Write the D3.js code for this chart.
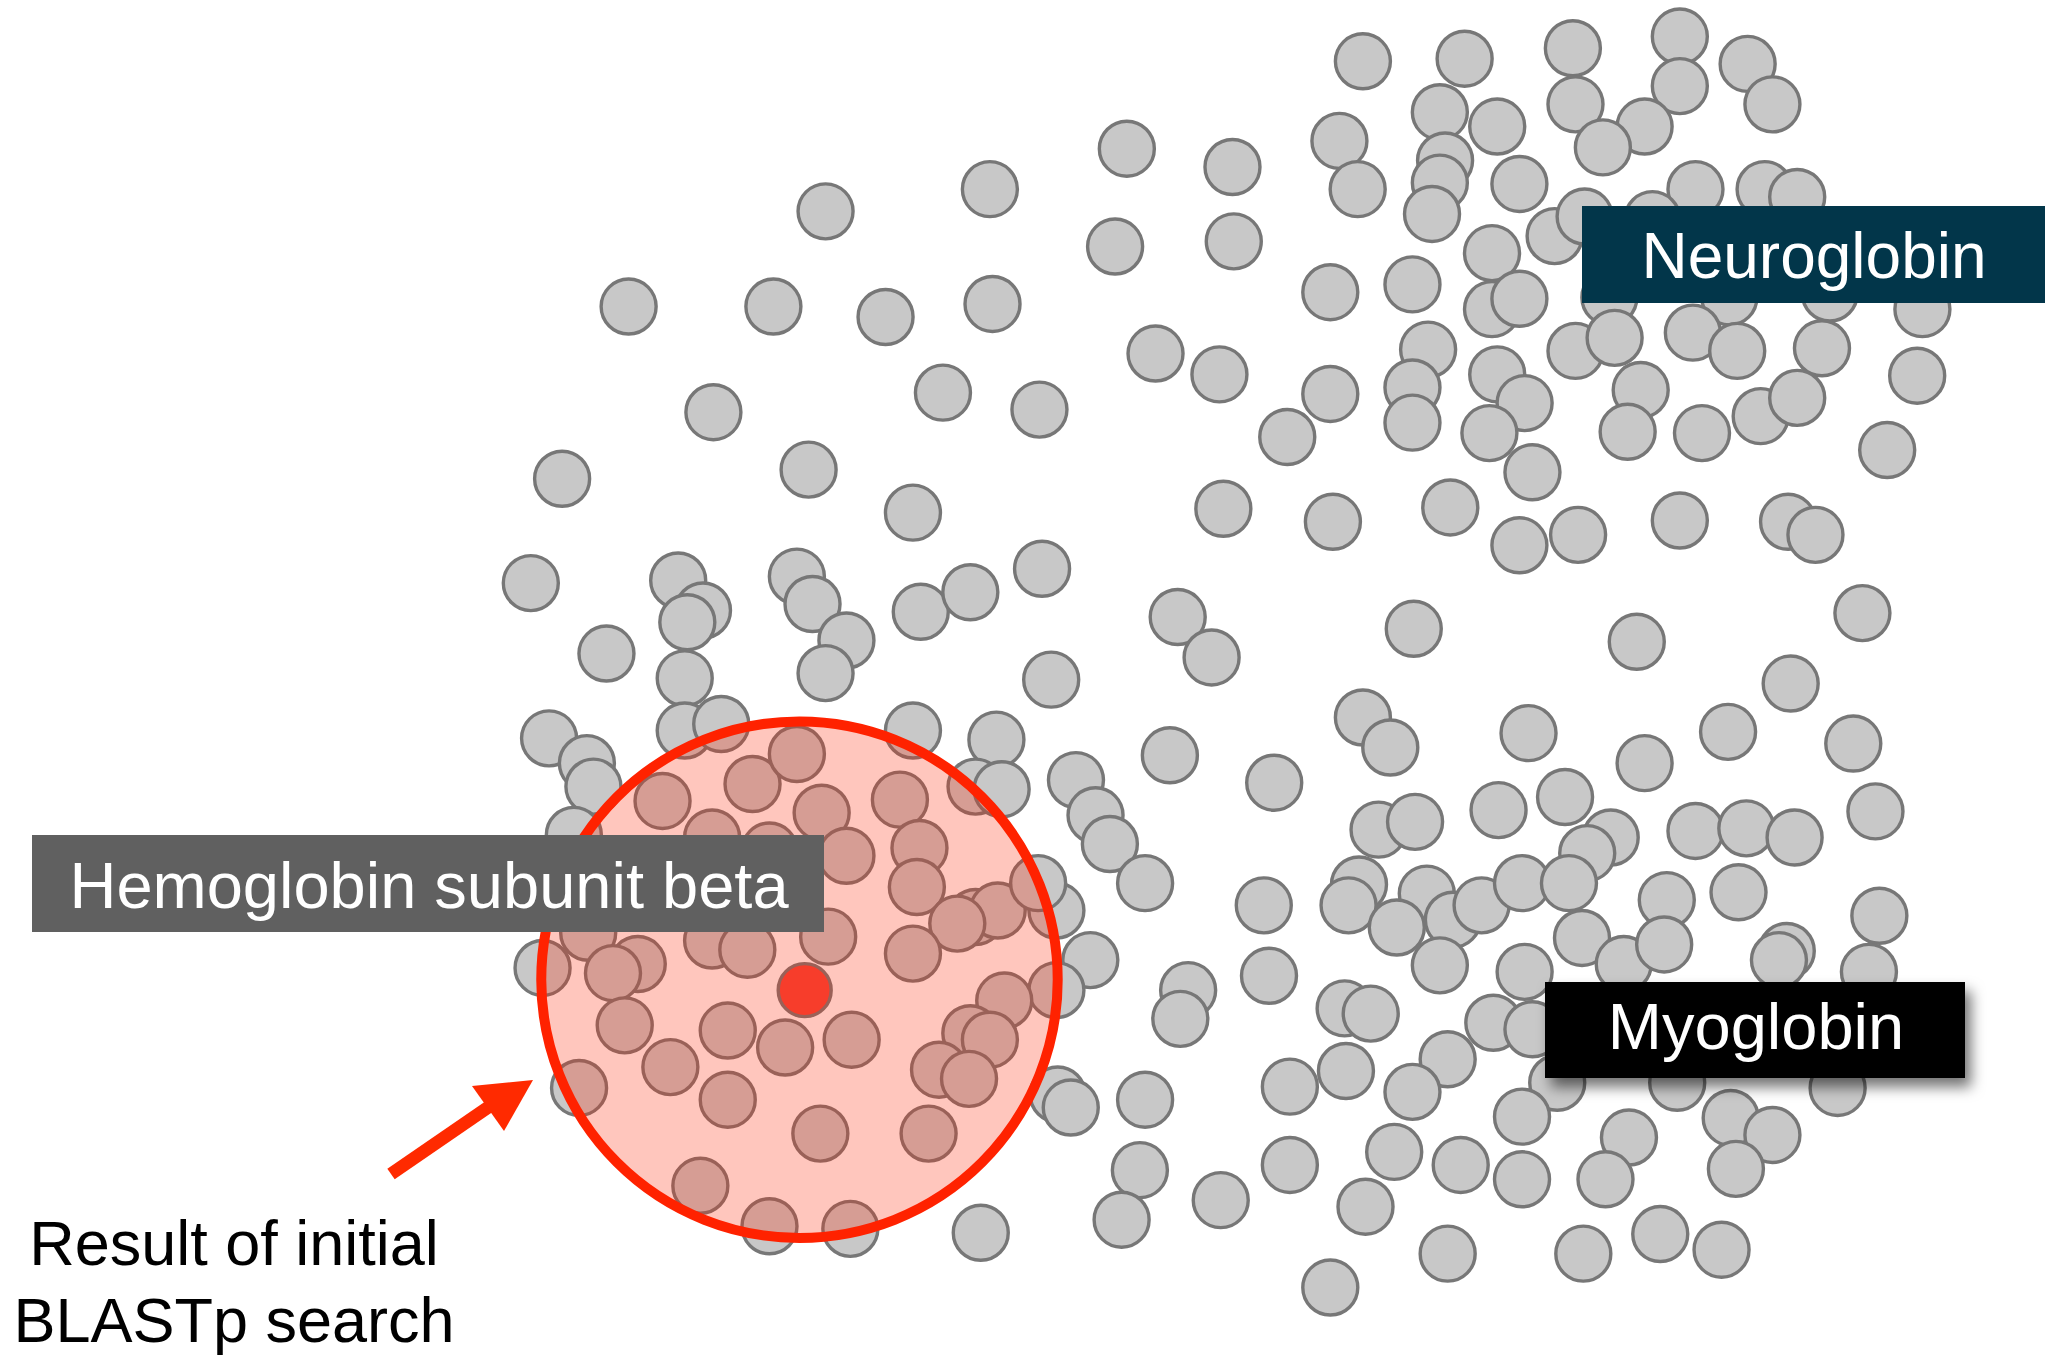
<!DOCTYPE html>
<html>
<head>
<meta charset="utf-8">
<script src="https://cdn.jsdelivr.net/npm/d3@7"></script>
<style>
  html, body { margin: 0; padding: 0; background: #ffffff; }
  svg { display: block; }
</style>
</head>
<body>
<svg id="chart" width="2045" height="1358"></svg>
<script>
// Embedding coordinates of each protein (units of the original figure canvas, 1568 x 1041)
const neuroglobinCluster = [
  [1045,47],[1123,45],[1206,37],[1288,28],[1340,49],[1359,80],[1288,66],[1208,80],[1104,86],[1148,97],
  [1261,97],[1229,113],[1027,108],[1041,145],[1108,123],[1104,140],[1098,164],[1165,141],[1192,181],[1215,166],
  [1300,145],[1353,145],[1378,151],[1267,168],[1020,224],[1083,218],[1144,194],[1144,237],[1165,229],[1234,228],
  [1326,228],[1403,225],[1474,237],[1095,268],[1208,269],[1238,259],[1298,255],[1332,269],[1397,267],[1470,288],
  [1020,302],[1083,297],[1083,324],[1148,287],[1169,309],[1142,332],[1258,299],[1248,331],[1305,332],[1350,319],
  [1378,305],[1447,345],[987,335],[1175,362],[1022,400],[1112,389],[1165,418],[1210,410],[1288,399],[1371,400],
  [1392,410]
];
const upperScatter = [
  [633,162],[759,145],[864,114],[945,128],[855,189],[946,185],[482,235],[593,235],[679,243],[761,233],
  [886,271],[935,287],[547,316],[723,301],[797,314],[431,367],[620,360],[700,393],[938,390],
  [407,447],[520,445],[539,468],[527,477],[465,501],[525,520],[611,442],[623,463],[649,491],[633,516],
  [706,469],[744,454],[799,436],[903,473],[929,504],[1084,482],[1255,492],[1428,470],[806,521],[1373,524]
];
const middleScatter = [
  [421,566],[450,585],[455,603],[525,560],[553,555],[700,560],[764,567],[748,603],[768,605],[825,598],
  [840,625],[851,647],[878,677],[897,579],[977,600],[1045,550],[1066,573],[1172,562],[1261,585],[1325,561],
  [1421,570],[1438,622],[810,698],[836,736],[810,759],[811,839],[821,849],[878,843],[874,897],[860,935],
  [752,945],[590,940],[652,942]
];
const myoglobinCluster = [
  [1057,636],[1085,630],[1149,621],[1200,611],[1235,642],[1217,654],[1300,637],[1339,635],[1376,642],[969,694],
  [1042,678],[1034,694],[1094,685],[1071,711],[1114,705],[1136,694],[1167,677],[1203,677],[1104,740],[1278,690],
  [1333,684],[1441,702],[1213,719],[1245,739],[1276,724],[1370,729],[1364,736],[1433,745],[911,759],[905,781],
  [973,748],[1031,773],[1051,777],[1169,745],[1145,784],[1175,789],[989,833],[1032,821],[1110,812],[1083,837],
  [1194,830],[1286,830],[1409,834],[1167,856],[1249,872],[1327,857],[1359,870],[1331,896],[989,893],[1069,883],
  [1120,893],[1167,904],[1231,904],[936,920],[1047,925],[1110,961],[1214,961],[1273,946],[1320,958],[1020,987]
];
const hemoglobinHits = [
  [577,601],[508,614],[611,578],[690,613],[630,623],[546,642],[705,650],[703,680],[649,656],[590,652],
  [440,640],[748,703],[765,698],[796,677],[734,708],[635,718],[700,731],[546,721],[573,728],[451,715],
  [416,742],[489,739],[470,746],[479,786],[514,818],[558,790],[602,803],[653,797],[770,767],[744,792],
  [759,797],[720,820],[743,827],[558,843],[629,869],[712,869],[444,834],[537,909]
];
const queryProtein = [[617,759]];
const searchRadius = 198;
const clusterLabels = ["Neuroglobin", "Hemoglobin subunit beta", "Myoglobin"];
const noteLines = ["Result of initial", "BLASTp search"];

const allPoints = [].concat(neuroglobinCluster, upperScatter, middleScatter, myoglobinCluster, hemoglobinHits);

const svg = d3.select("#chart");
const W = 2045, H = 1358;
const x = d3.scaleLinear().domain([0, 1568]).range([0, W]);
const y = d3.scaleLinear().domain([0, 1041]).range([0, H]);

const defs = svg.append("defs");
const f = defs.append("filter").attr("id", "shadow").attr("x", "-20%").attr("y", "-30%").attr("width", "150%").attr("height", "180%");
f.append("feDropShadow").attr("dx", 6).attr("dy", 9).attr("stdDeviation", 7).attr("flood-color", "#000").attr("flood-opacity", 0.55);

const R = 27.5;
svg.append("g").selectAll("circle").data(allPoints).join("circle")
  .attr("cx", d => x(d[0])).attr("cy", d => y(d[1])).attr("r", R)
  .attr("fill", "#c8c8c8").attr("stroke", "#777777").attr("stroke-width", 3.4);

svg.append("g").selectAll("circle").data(queryProtein).join("circle")
  .attr("cx", d => x(d[0])).attr("cy", d => y(d[1])).attr("r", 26.5)
  .attr("fill", "#f4473b").attr("stroke", "#777777").attr("stroke-width", 3.4);

// search radius ring
const ringC = [613, 751];
svg.append("circle")
  .attr("cx", x(ringC[0])).attr("cy", y(ringC[1]))
  .attr("r", x(searchRadius) - x(0))
  .attr("fill", "#ff2200").attr("fill-opacity", 0.26)
  .attr("stroke", "#ff2200").attr("stroke-width", 10);

// arrow
const ag = svg.append("g").attr("fill", "#ff2a00");
ag.append("line").attr("x1", 391).attr("y1", 1174).attr("x2", 490).attr("y2", 1106)
  .attr("stroke", "#ff2a00").attr("stroke-width", 13);
ag.append("path").attr("d", "M533,1080 L472,1086 L504,1131 Z");

// labels
function box(x0, y0, w, h, fill, text, tx, ty, fs, shadow) {
  const g = svg.append("g");
  const r = g.append("rect").attr("x", x0).attr("y", y0).attr("width", w).attr("height", h).attr("fill", fill);
  if (shadow) r.attr("filter", "url(#shadow)");
  g.append("text").attr("x", tx).attr("y", ty).attr("fill", "#fff")
    .attr("font-family", "'Liberation Sans', Arial, Helvetica, sans-serif")
    .attr("font-size", fs).attr("text-anchor", "middle").text(text);
}
box(1582, 206, 463, 97, "#02364a", clusterLabels[0], 1814, 278, 64, false);
box(32, 835, 792, 97, "#606060", clusterLabels[1], 429, 908, 65, false);
box(1545, 982, 420, 96, "#000000", clusterLabels[2], 1756, 1049, 65, true);

svg.append("g").selectAll("text").data(noteLines).join("text")
  .attr("x", 234).attr("y", (d, i) => 1265 + i * 77)
  .attr("text-anchor", "middle").attr("fill", "#000")
  .attr("font-family", "'Liberation Sans', Arial, Helvetica, sans-serif")
  .attr("font-size", 63).text(d => d);
</script>
</body>
</html>
